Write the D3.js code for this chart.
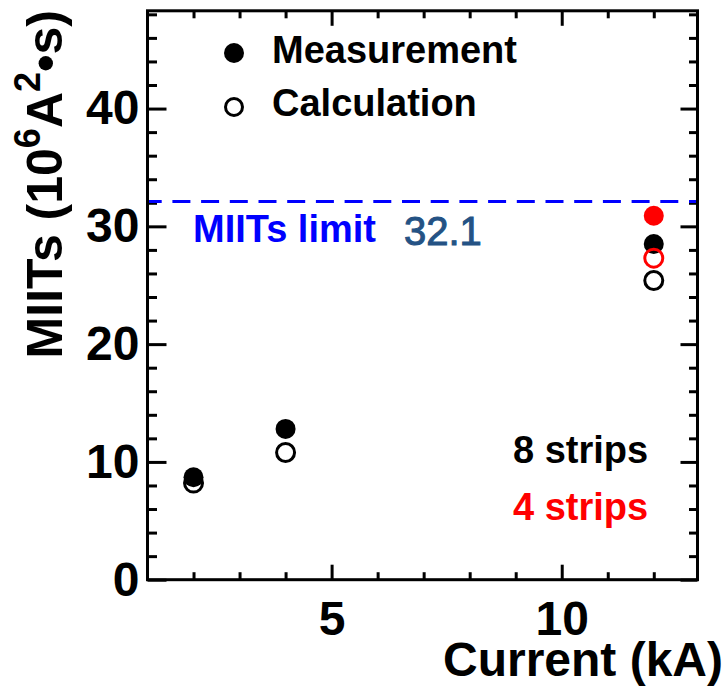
<!DOCTYPE html>
<html>
<head>
<meta charset="utf-8">
<script src="https://cdn.jsdelivr.net/npm/d3@7"></script>
<style>
  html, body { margin: 0; padding: 0; background: #fff; }
  svg { display: block; }
  text { font-family: "Liberation Sans", Arial, Helvetica, sans-serif; }
</style>
</head>
<body>
<svg id="chart" width="726" height="687"></svg>
<script>
// Quench integral (MIITs) versus current
const current8 = [2, 4, 12];          // kA, 8-strip heaters
const measured8 = [8.7, 12.8, 28.5];  // 10^6 A^2 s
const calculated8 = [8.2, 10.8, 25.4];

const current4 = [12];                 // kA, 4-strip heaters
const measured4 = [30.9];
const calculated4 = [27.3];

const miitsLimit = 32.1;

const xMajorTicks = [5, 10];
const xMinorTicks = [2, 3, 4, 6, 7, 8, 9, 11, 12];
const yMajorTicks = [0, 10, 20, 30, 40];
const yMinorTicks = [2, 4, 6, 8, 12, 14, 16, 18, 22, 24, 26, 28, 32, 34, 36, 38, 42, 44, 46, 48];

const legendLabels = ["Measurement", "Calculation"];
const groupLabels = ["8 strips", "4 strips"];
const groupColors = ["#000000", "#ff0000"];

const frame = { left: 147.5, right: 697.5, top: 10.8, bottom: 579.7 };

const svg = d3.select("#chart");

const x = d3.scaleLinear().domain([1, 12.95]).range([frame.left, frame.right]);
const y = d3.scaleLinear().domain([0, 48.3]).range([frame.bottom, frame.top]);

// Tick marks on all four sides, pointing inward
function tickAxis(axisFn, scale, values, size, transform) {
  const g = svg.append("g").attr("transform", transform)
    .call(axisFn(scale).tickValues(values).tickSizeInner(-size).tickSizeOuter(0).tickFormat(""));
  g.select(".domain").remove();
  g.selectAll(".tick line").attr("stroke", "#000").attr("stroke-width", 3);
  g.selectAll(".tick text").remove();
  return g;
}
const yMinorShown = yMinorTicks.filter(v => v < 48.2);
tickAxis(d3.axisBottom, x, xMajorTicks, 15, `translate(0,${frame.bottom})`);
tickAxis(d3.axisBottom, x, xMinorTicks, 7.5, `translate(0,${frame.bottom})`);
tickAxis(d3.axisTop, x, xMajorTicks, 15, `translate(0,${frame.top})`);
tickAxis(d3.axisTop, x, xMinorTicks, 7.5, `translate(0,${frame.top})`);
tickAxis(d3.axisLeft, y, yMajorTicks, 19, `translate(${frame.left},0)`);
tickAxis(d3.axisLeft, y, yMinorShown, 9.5, `translate(${frame.left},0)`);
tickAxis(d3.axisRight, y, yMajorTicks, 17, `translate(${frame.right},0)`);
tickAxis(d3.axisRight, y, yMinorShown, 8.5, `translate(${frame.right},0)`);

// Tick labels
const xLabels = svg.append("g").attr("transform", `translate(0,${frame.bottom})`)
  .call(d3.axisBottom(x).tickValues(xMajorTicks).tickSize(0).tickPadding(21).tickFormat(d3.format("d")));
xLabels.select(".domain").remove();
xLabels.selectAll("text").attr("font-size", 48).attr("font-weight", "bold")
  .attr("font-family", "Liberation Sans, Arial, sans-serif").attr("fill", "#000");

const yLabels = svg.append("g").attr("transform", `translate(${frame.left},0)`)
  .call(d3.axisLeft(y).tickValues(yMajorTicks).tickSize(0).tickPadding(8).tickFormat(d3.format("d")));
yLabels.select(".domain").remove();
yLabels.selectAll("text").attr("font-size", 48).attr("font-weight", "bold")
  .attr("font-family", "Liberation Sans, Arial, sans-serif").attr("fill", "#000");

// Axis titles
svg.append("text")
  .attr("x", 723).attr("y", 676)
  .attr("text-anchor", "end")
  .attr("font-size", 48).attr("font-weight", "bold")
  .text("Current (kA)");

const yTitle = svg.append("text")
  .attr("transform", "translate(62,10) rotate(-90)")
  .attr("text-anchor", "end")
  .attr("font-size", 50).attr("font-weight", "bold");
yTitle.append("tspan").text("MIITs (10");
yTitle.append("tspan").attr("font-size", 36).attr("dy", -22).text("6");
yTitle.append("tspan").attr("dy", 22).text("A");
yTitle.append("tspan").attr("font-size", 36).attr("dy", -22).text("2");
yTitle.append("tspan").attr("dy", 22).text("•s)");

// MIITs limit
svg.append("line")
  .attr("x1", 146).attr("x2", frame.right)
  .attr("y1", y(miitsLimit)).attr("y2", y(miitsLimit))
  .attr("stroke", "#0000ff").attr("stroke-width", 3)
  .attr("stroke-dasharray", "18,10.7").attr("stroke-dashoffset", 2.3);

svg.append("text")
  .attr("x", 193).attr("y", 242)
  .attr("font-size", 38).attr("font-weight", "bold").attr("fill", "#0000ff")
  .text("MIITs limit");

svg.append("text")
  .attr("x", 404).attr("y", 245)
  .attr("font-size", 40).attr("fill", "#245284")
  .attr("stroke", "#245284").attr("stroke-width", 1)
  .text(miitsLimit.toFixed(1));

// Data points
const series = [
  { xs: current8, ys: measured8, color: groupColors[0], filled: true },
  { xs: current8, ys: calculated8, color: groupColors[0], filled: false },
  { xs: current4, ys: measured4, color: groupColors[1], filled: true },
  { xs: current4, ys: calculated4, color: groupColors[1], filled: false }
];
series.forEach(s => {
  svg.append("g").selectAll("circle")
    .data(s.xs.map((xv, i) => [xv, s.ys[i]]))
    .join("circle")
    .attr("cx", d => x(d[0]))
    .attr("cy", d => y(d[1]))
    .attr("r", s.filled ? 10 : 9)
    .attr("fill", s.filled ? s.color : "none")
    .attr("stroke", s.filled ? "none" : s.color)
    .attr("stroke-width", 3);
});

// Legend
const legend = svg.append("g");
legend.append("circle").attr("cx", 234).attr("cy", 53).attr("r", 10).attr("fill", "#000");
legend.append("circle").attr("cx", 234).attr("cy", 107).attr("r", 8.5)
  .attr("fill", "none").attr("stroke", "#000").attr("stroke-width", 3);
legend.selectAll("text.lg")
  .data(legendLabels)
  .join("text")
  .attr("class", "lg")
  .attr("x", 272).attr("y", (d, i) => 63 + i * 53)
  .attr("font-size", 38).attr("font-weight", "bold").attr("fill", "#000")
  .text(d => d);

// Heater strip groups
svg.selectAll("text.grp")
  .data(groupLabels)
  .join("text")
  .attr("class", "grp")
  .attr("x", 513).attr("y", (d, i) => 463 + i * 57)
  .attr("font-size", 38).attr("font-weight", "bold")
  .attr("fill", (d, i) => groupColors[i])
  .text(d => d);

// Frame
svg.append("rect")
  .attr("x", frame.left).attr("y", frame.top)
  .attr("width", frame.right - frame.left).attr("height", frame.bottom - frame.top)
  .attr("fill", "none").attr("stroke", "#000").attr("stroke-width", 3);
</script>
</body>
</html>
